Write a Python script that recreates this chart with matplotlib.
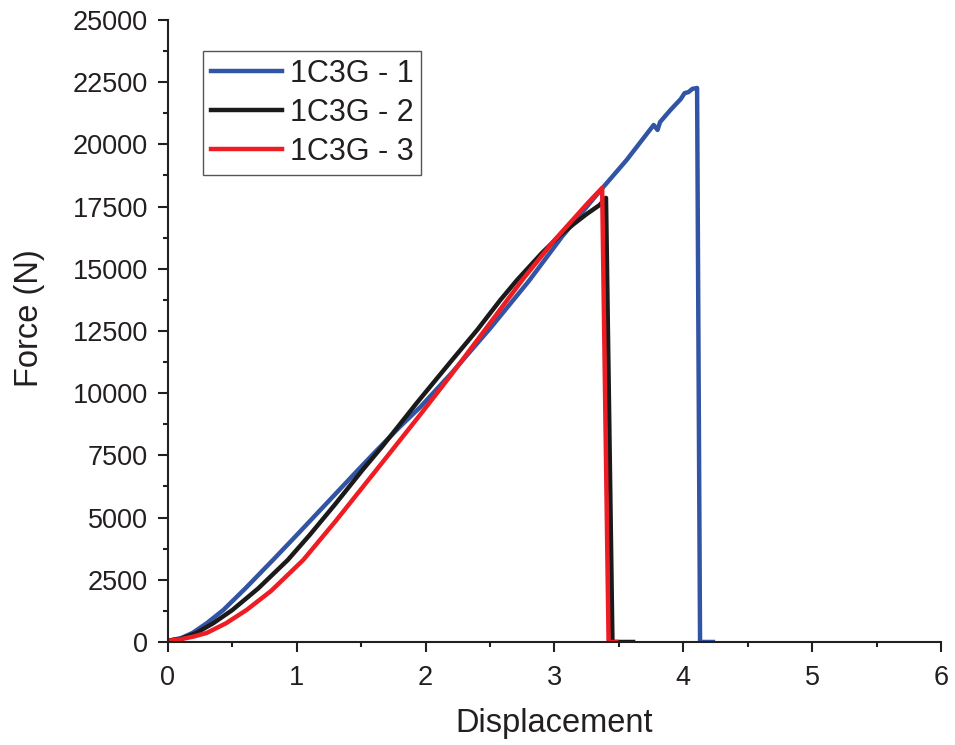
import matplotlib
matplotlib.use("Agg")
import matplotlib.pyplot as plt
from matplotlib.ticker import MultipleLocator

plt.rcParams['font.family'] = ['Liberation Sans', 'DejaVu Sans']

# 1C3G - 1
disp_1 = [0.00, 0.10, 0.19, 0.30, 0.43, 0.60, 0.815, 1.00, 1.20, 1.475, 1.62, 1.80,
          1.96, 2.20, 2.50, 2.80, 3.06, 3.30, 3.38, 3.56, 3.77, 3.80, 3.82, 3.90, 3.98,
          4.01, 4.04, 4.07, 4.107, 4.13, 4.23]
force_1 = [50, 150, 362, 750, 1286, 2150, 3296, 4300, 5400, 6913, 7700, 8650,
           9450, 10800, 12600, 14500, 16300, 17800, 18290, 19370, 20780, 20580, 20900, 21380, 21820,
           22060, 22100, 22230, 22267, 0, 0]

# 1C3G - 2
disp_2 = [0.00, 0.10, 0.22, 0.35, 0.50, 0.70, 0.93, 1.10, 1.30, 1.51, 1.66, 1.80,
          1.93, 2.20, 2.40, 2.58, 2.71, 2.90, 3.04, 3.14, 3.25, 3.35, 3.40, 3.45, 3.61]
force_2 = [50, 130, 362, 750, 1286, 2150, 3296, 4300, 5550, 6913, 7837, 8750,
           9600, 11300, 12540, 13746, 14550, 15620, 16330, 16760, 17200, 17560, 17850, 0, 0]

# 1C3G - 3
disp_3 = [0.00, 0.10, 0.20, 0.30, 0.45, 0.61, 0.80, 1.05, 1.30, 1.50, 1.70, 1.96,
          2.20, 2.46, 2.75, 3.00, 3.26, 3.37, 3.42, 3.48]
force_3 = [50, 110, 220, 362, 750, 1286, 2050, 3296, 4850, 6150, 7450, 9150,
           10750, 12540, 14550, 16150, 17650, 18250, 0, 0]

labels = ['1C3G - 1', '1C3G - 2', '1C3G - 3']
colors = ['#3155A4', '#1A1A1A', '#EE1D24']

ink = '#231F20'

fig = plt.figure(figsize=(9.55, 7.45), dpi=100)
ax = fig.add_axes([0.1759, 0.1383, 0.8094, 0.8349])

for xs, ys, lab, c in zip([disp_1, disp_2, disp_3], [force_1, force_2, force_3], labels, colors):
    ax.plot(xs, ys, color=c, lw=3.2, label=lab)

ax.set_xlim(0, 6)
ax.set_ylim(0, 25000)
ax.xaxis.set_major_locator(MultipleLocator(1))
ax.xaxis.set_minor_locator(MultipleLocator(0.5))
ax.yaxis.set_major_locator(MultipleLocator(2500))
ax.yaxis.set_minor_locator(MultipleLocator(1250))

for side in ['top', 'right']:
    ax.spines[side].set_visible(False)
for side in ['left', 'bottom']:
    ax.spines[side].set_linewidth(1.5)
    ax.spines[side].set_color(ink)

ax.tick_params(which='major', direction='out', length=7.5, width=1.5, color=ink,
               labelsize=19.5, labelcolor=ink)
ax.tick_params(which='minor', direction='out', length=3.6, width=1.5, color=ink)
ax.tick_params(axis='x', which='major', pad=9)
ax.tick_params(axis='y', which='major', pad=7)

ax.set_xlabel('Displacement', fontsize=23.5, color=ink, labelpad=12)
ax.set_ylabel('Force (N)', fontsize=23.5, color=ink)
ax.yaxis.set_label_coords(-0.159, 0.52)

leg = ax.legend(loc='upper left', bbox_to_anchor=(0.0453, 0.950), borderaxespad=0,
                fontsize=22, frameon=True, fancybox=False, framealpha=1,
                edgecolor='#555555', borderpad=0.25, handletextpad=0.25,
                handlelength=2.35, labelspacing=0.3)
leg.get_frame().set_linewidth(1.0)
for t in leg.get_texts():
    t.set_color(ink)

fig.savefig('out.png', dpi=100)
